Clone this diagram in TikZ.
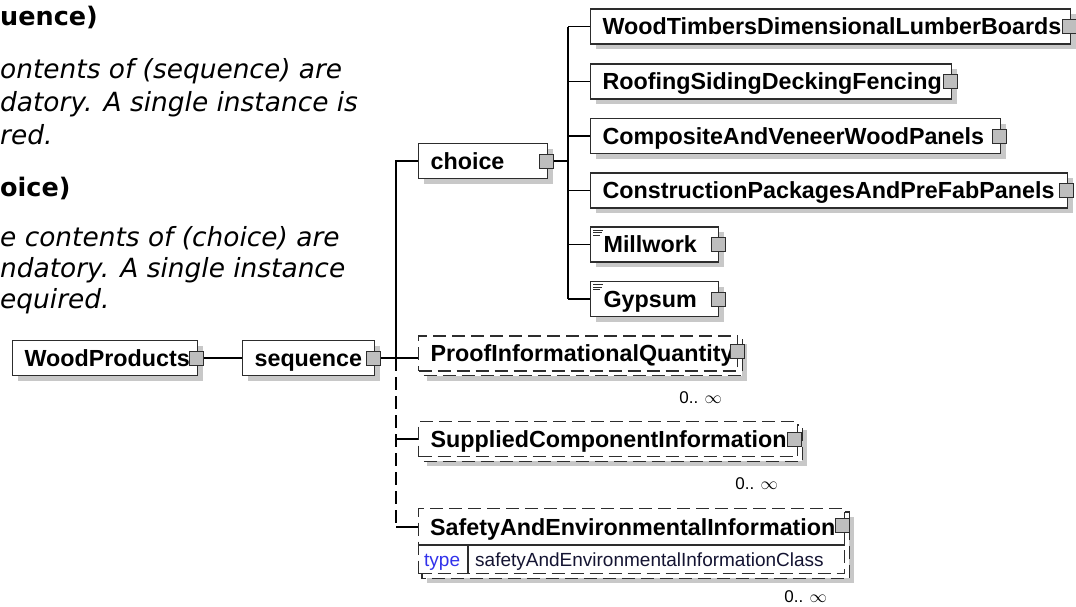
\documentclass[tikz,border=0pt]{standalone}
\usepackage{fontspec}
\setmainfont{Liberation Sans}
\newfontfamily\verd{DejaVu Sans}[ItalicFont={DejaVu Sans Oblique},BoldFont={DejaVu Sans Bold}]
\usetikzlibrary{shadows,backgrounds}
\definecolor{bordc}{RGB}{45,45,45}
\definecolor{shad}{RGB}{200,200,200}
\definecolor{portc}{RGB}{190,190,190}
\definecolor{typeblue}{RGB}{50,50,235}
\definecolor{typetext}{RGB}{20,20,50}
\newcommand{\lbl}[2]{\makebox[#1][l]{#2}}
\begin{document}
\begin{tikzpicture}[x=1pt,y=-1pt,
  elemfont/.style={font=\fontsize{23.3}{26}\selectfont\bfseries},
  elem/.style={elemfont, draw=bordc, fill=white, line width=1.2pt, anchor=west,
     minimum height=35pt, inner xsep=12pt, inner ysep=0pt, text height=16.7pt, text depth=0pt,
     drop shadow={shadow xshift=5pt,shadow yshift=-5pt,opacity=1,fill=shad}},
  optelem/.style={elemfont, draw=bordc, fill=white, line width=1.2pt, anchor=west,
     dash pattern=on 13pt off 6pt,
     minimum height=35pt, inner xsep=12pt, inner ysep=0pt, text height=16.7pt, text depth=0pt},
  backbox/.style={draw=bordc, fill=white, line width=1.2pt, dash pattern=on 13pt off 6pt},
  shadowbox/.style={fill=shad},
  port/.style={draw=bordc, fill=portc, line width=1pt, minimum size=14pt, inner sep=0pt},
  conn/.style={draw=black, line width=1.3pt},
  trunkdash/.style={draw=black, line width=1.3pt, dash pattern=on 13pt off 6pt},
  hdr/.style={font=\verd\bfseries\fontsize{25.5}{30}\selectfont, anchor=base west, inner sep=0pt},
  itx/.style={font=\verd\itshape\fontsize{26.4}{33}\selectfont, anchor=base west, inner sep=0pt},
  occ/.style={font=\fontsize{17}{19}\selectfont, anchor=east, inner sep=0pt, text height=12pt, text depth=0pt},
  smalltxt/.style={font=\fontsize{19}{21}\selectfont, anchor=west, inner sep=0pt, text height=13.6pt, text depth=0pt},
  docicon/.style={line width=0.9pt, draw=bordc}
]
\useasboundingbox (0,0) rectangle (1076,606);

% left annotation text
\node[hdr] (h1) at (0,25) {uence)};
\node[itx] (s1) at (0,78) {ontents of (sequence) are};
\node[itx] (s2) at (0,111) {datory. A single instance is};
\node[itx] (s3) at (0,144) {red.};
\node[hdr] (h2) at (0,196) {oice)};
\node[itx] (c1) at (0,246) {e contents of (choice) are};
\node[itx] (c2) at (0,277) {ndatory. A single instance};
\node[itx] (c3) at (0,308) {equired.};

% root and sequence
\node[elem] (wp) at (12,358) {\lbl{161pt}{WoodProducts}};
\node[elem] (seq) at (242,358) {\lbl{108pt}{sequence}};
\node[elem] (ch) at (418,161) {\lbl{105pt}{choice}};

% choice children
\node[elem] (wt) at (590,26.5) {\lbl{456pt}{WoodTimbersDimensionalLumberBoards}};
\node[elem] (rs) at (590,81.5) {\lbl{337pt}{RoofingSidingDeckingFencing}};
\node[elem] (cv) at (590,136) {\lbl{386pt}{CompositeAndVeneerWoodPanels}};
\node[elem] (cp) at (590,190.5) {\lbl{453pt}{ConstructionPackagesAndPreFabPanels}};
\node[elem] (mw) at (590,244.5) {\lbl{104pt}{\hspace{1pt}Millwork}};
\node[elem] (gy) at (590,299) {\lbl{104pt}{\hspace{1pt}Gypsum}};

% optional repeated elements (front boxes)
\node[optelem] (pq) at (418,353.5) {\lbl{295pt}{ProofInformationalQuantity}};
\node[optelem] (sc) at (418,439) {\lbl{355pt}{SuppliedComponentInformation}};
\node[draw=bordc, fill=white, line width=1.2pt, dash pattern=on 13pt off 6pt,
      anchor=north west, minimum width=426pt, minimum height=65pt, inner sep=0pt] (sa) at (418,508) {};
\node[elemfont, anchor=west, inner sep=0pt, text height=16.7pt, text depth=0pt] (sat) at (430,527) {SafetyAndEnvironmentalInformation};
\draw[line width=1.2pt, draw=bordc] ([yshift=-37pt]sa.north west) -- ([yshift=-37pt]sa.north east);
\draw[line width=1.2pt, draw=bordc] ([shift={(50pt,-37pt)}]sa.north west) -- ([xshift=50pt]sa.south west);
\node[smalltxt, text=typeblue] (tp) at (424,559.5) {type};
\node[smalltxt, text=typetext] (tc) at (475,559.5) {safetyAndEnvironmentalInformationClass};

% back boxes and shadows of repeated elements
\begin{pgfonlayer}{background}
  \foreach \n in {pq,sc,sa}{
    \fill[shadowbox] ([shift={(9pt,-9pt)}]\n.north west) rectangle ([shift={(9pt,-9pt)}]\n.south east);
    \path[backbox] ([shift={(4pt,-4pt)}]\n.north west) rectangle ([shift={(4pt,-4pt)}]\n.south east);
  }
\end{pgfonlayer}

% documentation icons
\foreach \n in {mw,gy}{
  \draw[docicon] ([shift={(3pt,-4pt)}]\n.north west) -- ++(10pt,0);
  \draw[docicon] ([shift={(3pt,-6.5pt)}]\n.north west) -- ++(9pt,0);
  \draw[docicon] ([shift={(3pt,-9pt)}]\n.north west) -- ++(7pt,0);
}

% ports
\node[port] (wp-p) at ([xshift=-1.5pt]wp.east) {};
\node[port] (seq-p) at ([xshift=-1.5pt]seq.east) {};
\node[port] (ch-p) at ([xshift=-1.5pt]ch.east) {};
\node[port] (wt-p) at ([xshift=-1.5pt]wt.east) {};
\node[port] (rs-p) at ([xshift=-1.5pt]rs.east) {};
\node[port] (cv-p) at ([xshift=-1.5pt]cv.east) {};
\node[port] (cp-p) at ([xshift=-1.5pt]cp.east) {};
\node[port] (mw-p) at ([xshift=-1pt]mw.east) {};
\node[port] (gy-p) at ([xshift=-1pt]gy.east) {};
\node[port] (pq-p) at (737,351) {};
\node[port] (sc-p) at (794,439.5) {};
\node[port] (sa-p) at (842.5,525) {};

% occurrence labels
\node[occ] (pq-o) at (722,397) {0.. $\infty$};
\node[occ] (sc-o) at (778,483) {0.. $\infty$};
\node[occ] (sa-o) at (827,596) {0.. $\infty$};

% connectors
\coordinate (tt) at (396,161);
\coordinate (tp1) at (396,358);
\coordinate (ts) at (396,439);
\coordinate (tb) at (396,527);
\coordinate (cvx) at (568,161);
\draw[conn] (wp-p.east) -- (seq.west);
\draw[conn] (seq-p.east) -- (tp1);
\draw[conn] (ch.west) -- (tt) -- (tp1) -- (pq.west |- tp1);
\draw[trunkdash] (tp1) -- (tb);
\draw[conn] (ts) -- (sc.west);
\draw[conn] (tb) -- (sa.west |- tb);
\draw[conn] (ch-p.east) -- (cvx);
\draw[conn] (cvx |- wt.west) -- (cvx |- gy.west);
\foreach \n in {wt,rs,cv,cp,mw,gy}{
  \draw[conn] (cvx |- \n.west) -- (\n.west);
}
\end{tikzpicture}
\end{document}
